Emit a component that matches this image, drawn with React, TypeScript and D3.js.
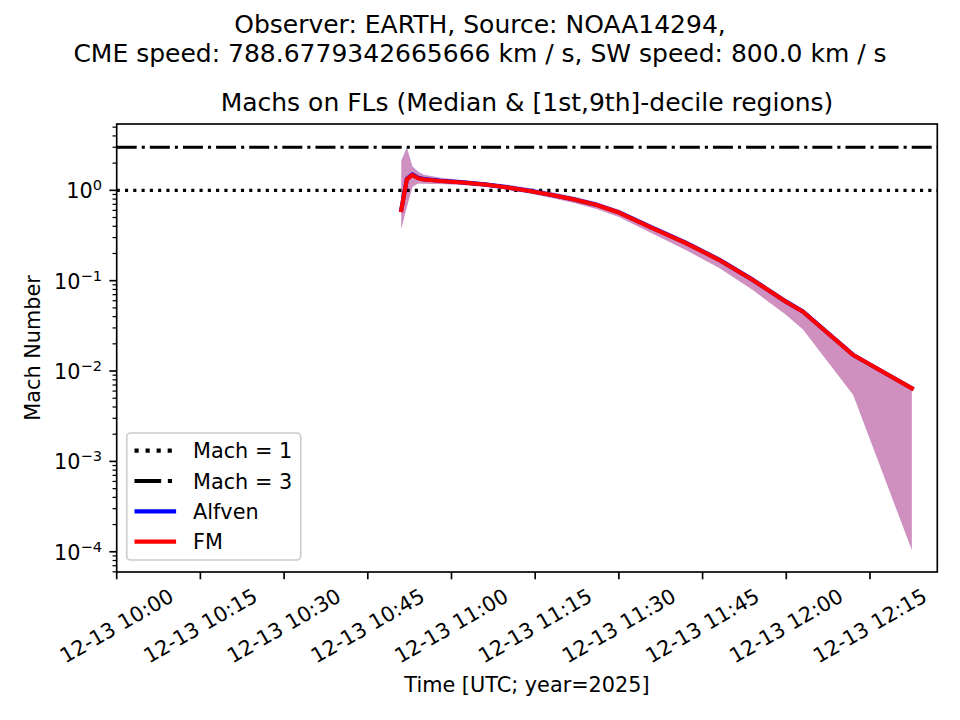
import React from "react";
import * as d3 from "d3";

// ---- data ----
const timeLabels = [
  "10:51:00", "10:52:00", "10:53:00", "10:54:00", "10:55:00", "10:58:00",
  "11:02:00", "11:06:00", "11:10:00", "11:14:00", "11:18:00", "11:22:00",
  "11:26:00", "11:30:00", "11:36:00", "11:42:00", "11:48:00", "11:54:00",
  "12:00:00", "12:03:00", "12:12:00", "12:22:30",
];
const fmMedian = [
  0.605, 1.324, 1.477, 1.358, 1.317, 1.267, 1.22, 1.159, 1.074, 0.982, 0.887,
  0.791, 0.688, 0.568, 0.3825, 0.261, 0.1693, 0.1017, 0.058, 0.0453, 0.01503, 0.00643,
];
const fmHigh = [
  2.11, 2.939, 1.811, 1.594, 1.477, 1.368, 1.284, 1.205, 1.145, 1.047, 0.946,
  0.843, 0.733, 0.605, 0.4077, 0.2782, 0.1804, 0.1083, 0.0619, 0.0479, 0.0156, 0.0066,
];
const fmLow = [
  0.373, 0.653, 1.088, 1.189, 1.185, 1.174, 1.145, 1.088, 1.021, 0.922, 0.822,
  0.724, 0.621, 0.506, 0.3325, 0.2184, 0.138, 0.0788, 0.0417, 0.0289, 0.00543, 0.0001044,
];
const alfvenMedian = [
  0.608, 1.34, 1.5, 1.375, 1.33, 1.275, 1.225, 1.163, 1.077, 0.985, 0.889,
  0.793, 0.69, 0.57, 0.384, 0.262, 0.17, 0.102, 0.0582, 0.0454, 0.01507, 0.00645,
];
const alfvenHigh = [
  2.15, 3.0, 1.86, 1.63, 1.5, 1.39, 1.3, 1.22, 1.16, 1.06, 0.957,
  0.853, 0.742, 0.613, 0.4135, 0.2825, 0.1833, 0.1101, 0.063, 0.0487, 0.0158, 0.00668,
];
const alfvenLow = fmLow;
const machLevels = [1, 3];
const xTickLabels = ["10:00", "10:15", "10:30", "10:45", "11:00", "11:15", "11:30", "11:45", "12:00", "12:15"];
const yMajorExp = [-4, -3, -2, -1, 0];
const legendLabels = ["Mach = 1", "Mach = 3", "Alfven", "FM"];

const DAY = "2025-12-13";
const FONT = "DejaVu Sans";

export default function App() {
  const L = 116.7, R = 937.3, T = 124, B = 572;
  const x = d3
    .scaleUtc()
    .domain([new Date(`${DAY}T10:00:00Z`), new Date(`${DAY}T12:27:04Z`)])
    .range([L, R]);
  const y = d3.scaleLog().domain([Math.pow(10, -4.224), Math.pow(10, 0.734)]).range([B, T]);

  const times = timeLabels.map((t) => new Date(`${DAY}T${t}Z`));
  const mk = (arr: number[]) => times.map((t, i) => ({ t, v: arr[i] }));
  const band = (lo: number[], hi: number[]) => times.map((t, i) => ({ t, lo: lo[i], hi: hi[i] }));

  const line = d3
    .line<{ t: Date; v: number }>()
    .x((d) => x(d.t))
    .y((d) => y(d.v));
  const area = d3
    .area<{ t: Date; lo: number; hi: number }>()
    .x((d) => x(d.t))
    .y0((d) => y(d.lo))
    .y1((d) => y(d.hi));

  const xTicks = xTickLabels.map((s) => new Date(`${DAY}T${s}:00Z`));
  const fmt = d3.utcFormat("%m-%d %H:%M");

  const minor: number[] = [];
  for (let e = -5; e <= 0; e++) {
    for (let k = 2; k <= 9; k++) {
      const v = k * Math.pow(10, e);
      const yy = y(v);
      if (yy >= T - 0.01 && yy <= B + 0.01) minor.push(v);
    }
  }

  const lw15 = 3.125;
  const lw2 = 4.17;

  return (
    <svg
      width={960}
      height={720}
      style={{ position: "absolute", left: 0, top: 0, background: "#fff" }}
      fontFamily={FONT}
    >
      <rect x={0} y={0} width={960} height={720} fill="#fff" />
      <defs>
        <clipPath id="plotclip">
          <rect x={L} y={T} width={R - L} height={B - T} />
        </clipPath>
      </defs>

      {/* suptitle */}
      <text x={480} y={33} textAnchor="middle" fontSize={25} fill="#000">
        Observer: EARTH, Source: NOAA14294,
      </text>
      <text x={480} y={62} textAnchor="middle" fontSize={25} fill="#000">
        CME speed: 788.6779342665666 km / s, SW speed: 800.0 km / s
      </text>
      {/* axes title */}
      <text x={(L + R) / 2} y={111} textAnchor="middle" fontSize={25} fill="#000">
        Machs on FLs (Median &amp; [1st,9th]-decile regions)
      </text>

      <g clipPath="url(#plotclip)">
        <path d={area(band(alfvenLow, alfvenHigh)) || ""} fill="blue" fillOpacity={0.25} stroke="none" />
        <path d={area(band(fmLow, fmHigh)) || ""} fill="red" fillOpacity={0.25} stroke="none" />
        <line
          x1={L}
          x2={R}
          y1={y(machLevels[0])}
          y2={y(machLevels[0])}
          stroke="#000"
          strokeWidth={lw15}
          strokeDasharray={`${1 * lw15} ${1.65 * lw15}`}
        />
        <line
          x1={L}
          x2={R}
          y1={y(machLevels[1])}
          y2={y(machLevels[1])}
          stroke="#000"
          strokeWidth={lw15}
          strokeDasharray={`${6.4 * lw15} ${1.6 * lw15} ${1 * lw15} ${1.6 * lw15}`}
        />
        <path
          d={line(mk(alfvenMedian)) || ""}
          fill="none"
          stroke="blue"
          strokeWidth={lw2}
          strokeLinejoin="round"
          strokeLinecap="square"
        />
        <path
          d={line(mk(fmMedian)) || ""}
          fill="none"
          stroke="red"
          strokeWidth={lw2}
          strokeLinejoin="round"
          strokeLinecap="square"
        />
      </g>

      {/* y minor ticks */}
      {minor.map((v, i) => (
        <line key={"mn" + i} x1={L} x2={L - 4.17} y1={y(v)} y2={y(v)} stroke="#000" strokeWidth={1.25} />
      ))}
      {/* y major ticks + labels */}
      {yMajorExp.map((e) => {
        const yy = y(Math.pow(10, e));
        return (
          <g key={"ym" + e}>
            <line x1={L} x2={L - 7.3} y1={yy} y2={yy} stroke="#000" strokeWidth={1.67} />
            <text x={102} y={yy + 8} textAnchor="end" fontSize={20.8} fill="#000">
              <tspan>10</tspan>
              <tspan dy={-8} fontSize={14.6}>
                {e < 0 ? "\u2212" + Math.abs(e) : String(e)}
              </tspan>
            </text>
          </g>
        );
      })}
      {/* x ticks + labels */}
      {xTicks.map((d, i) => {
        const xx = x(d);
        return (
          <g key={"xt" + i}>
            <line x1={xx} x2={xx} y1={B} y2={B + 7.3} stroke="#000" strokeWidth={1.67} />
            <text
              transform={`translate(${xx},${626}) rotate(-30)`}
              textAnchor="middle"
              dominantBaseline="central"
              fontSize={20.8}
              fill="#000"
            >
              {fmt(d)}
            </text>
          </g>
        );
      })}

      {/* spines */}
      <rect x={L} y={T} width={R - L} height={B - T} fill="none" stroke="#000" strokeWidth={1.67} />

      {/* axis labels */}
      <text x={(L + R) / 2} y={692} textAnchor="middle" fontSize={20.8} fill="#000">
        Time [UTC; year=2025]
      </text>
      <text
        transform={`translate(33,${(T + B) / 2}) rotate(-90)`}
        textAnchor="middle"
        dominantBaseline="central"
        fontSize={20.8}
        fill="#000"
      >
        Mach Number
      </text>

      {/* legend */}
      <g>
        <rect
          x={126.7}
          y={433}
          width={174}
          height={127}
          rx={4}
          fill="#fff"
          fillOpacity={0.8}
          stroke="#cccccc"
          strokeWidth={1.67}
        />
        {legendLabels.map((lab, i) => {
          const cy = 450.7 + i * 30.3;
          const x1 = 134.5;
          const x2 = 176.1;
          let dash: string | undefined;
          let col = "#000";
          if (i === 0) dash = `${1 * lw2} ${1.65 * lw2}`;
          if (i === 1) dash = `${6.4 * lw2} ${1.6 * lw2} ${1 * lw2} ${1.6 * lw2}`;
          if (i === 2) col = "blue";
          if (i === 3) col = "red";
          return (
            <g key={"lg" + i}>
              <line x1={x1} x2={x2} y1={cy} y2={cy} stroke={col} strokeWidth={lw2} strokeDasharray={dash} />
              <text x={193} y={cy + 7.6} fontSize={20.8} fill="#000">
                {lab}
              </text>
            </g>
          );
        })}
      </g>
    </svg>
  );
}
